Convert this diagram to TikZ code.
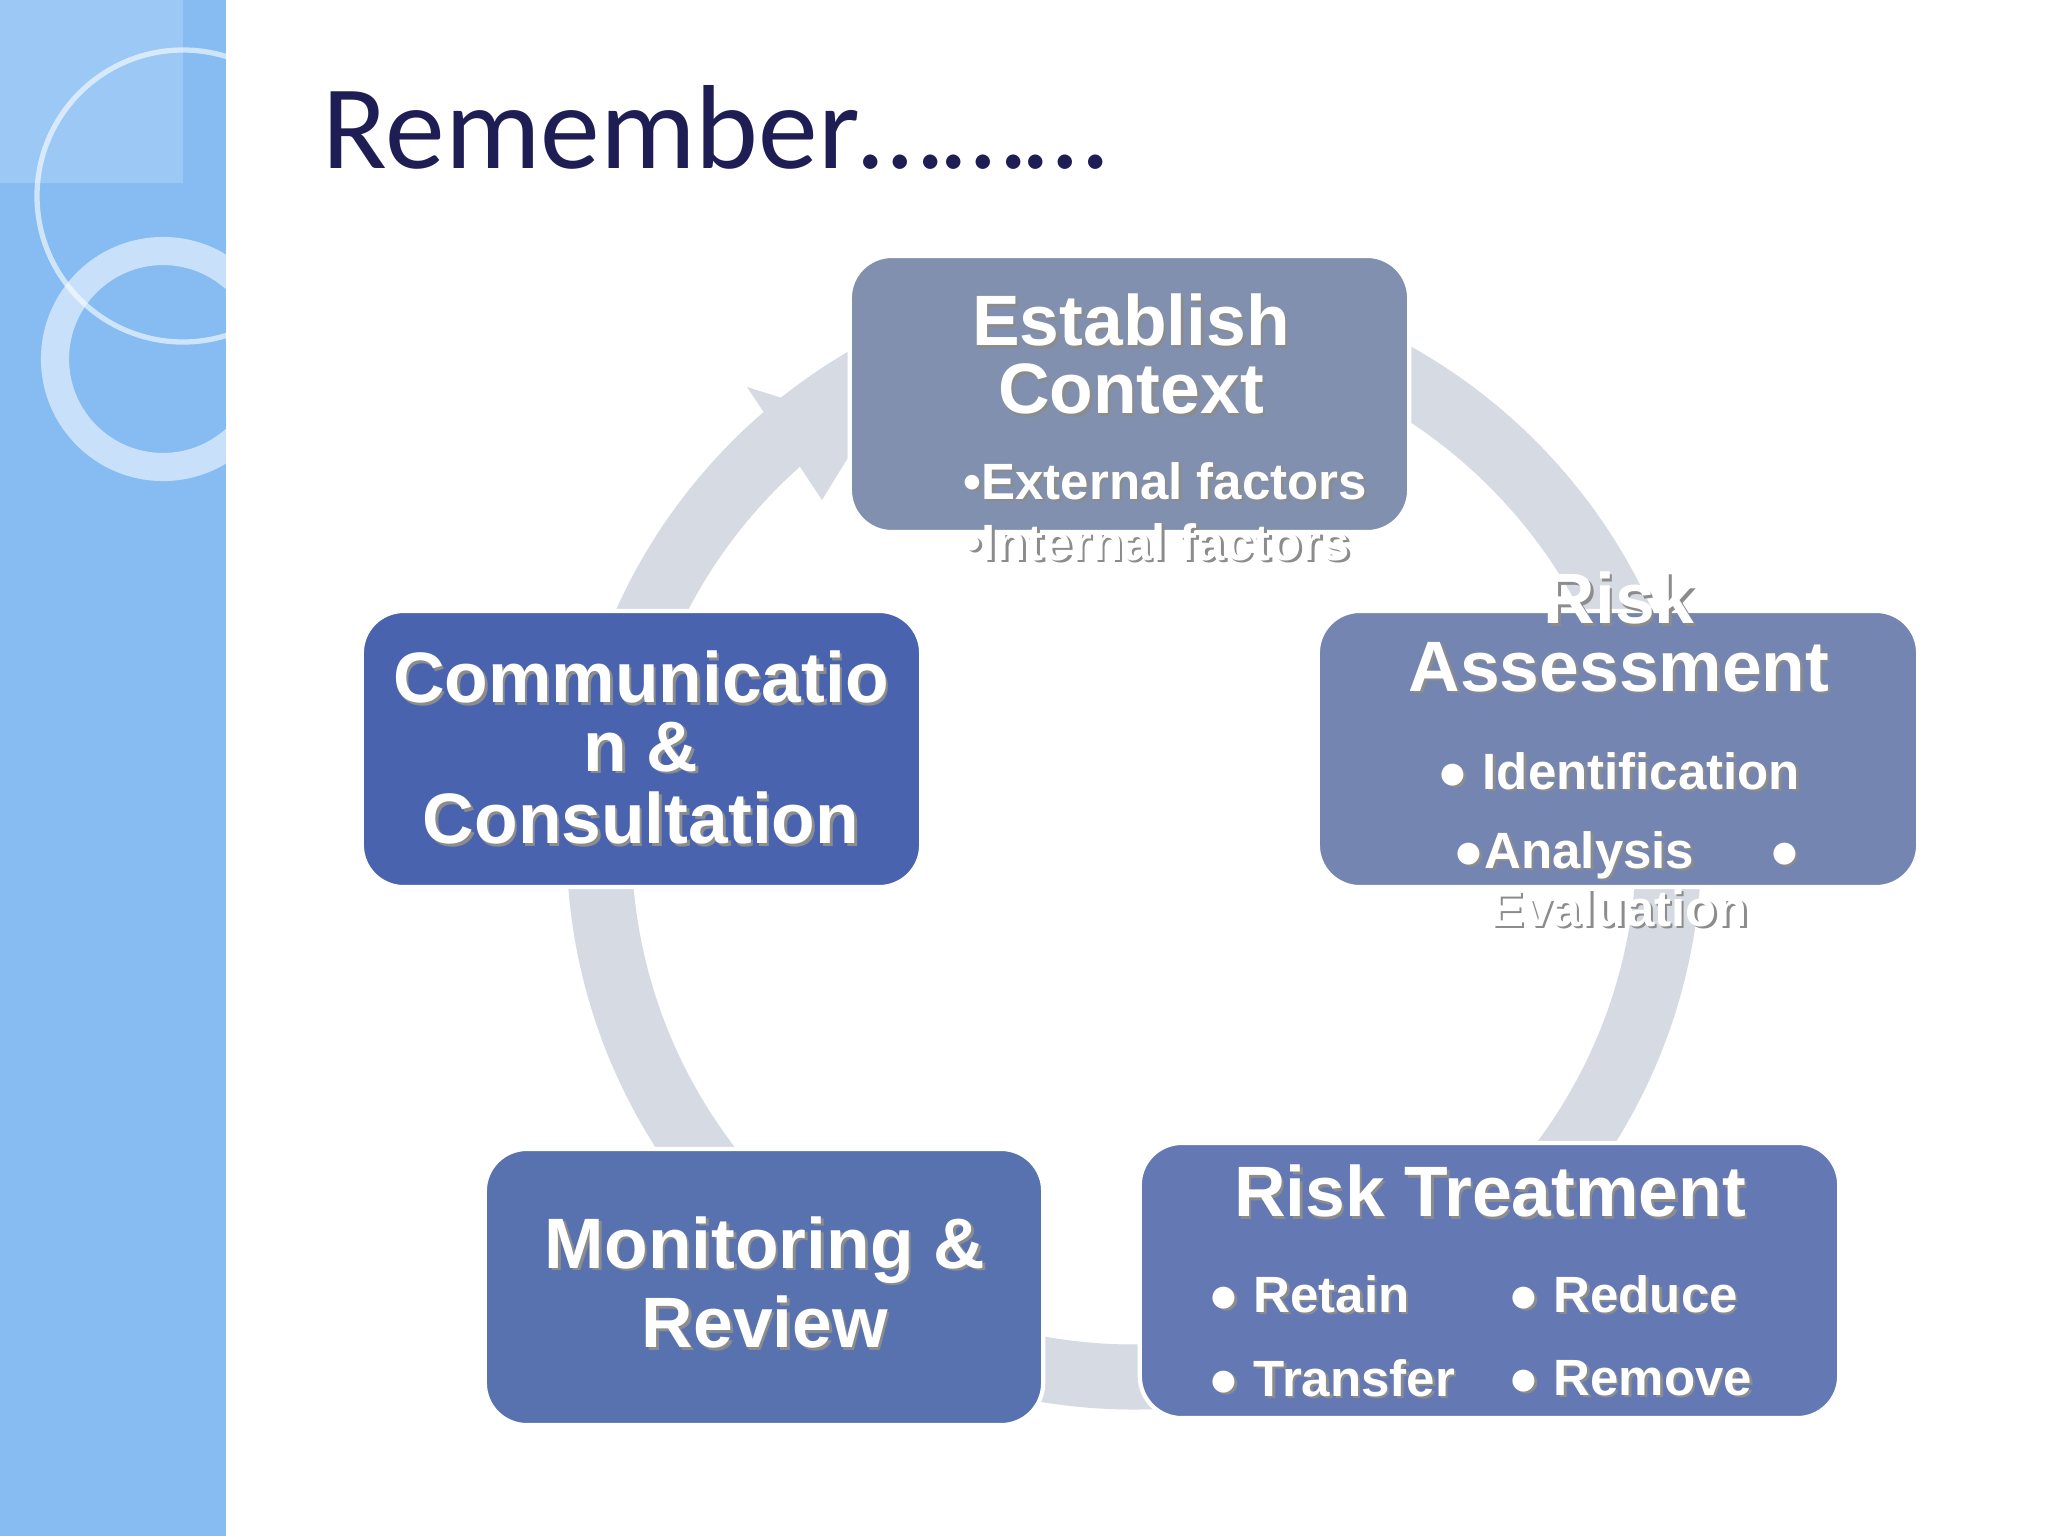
\documentclass[tikz,border=0pt]{standalone}
\usepackage{fontspec}
\usetikzlibrary{calc}
\setmainfont{Liberation Sans}
\newfontfamily\titlefont{Carlito}
\begin{document}
\begin{tikzpicture}[x=0.01cm,y=-0.01cm]
\definecolor{strip}{HTML}{86BCF2}
\definecolor{ring}{HTML}{D6DAE3}
\definecolor{navy}{HTML}{1E1E55}
\tikzset{
  box/.style={rounded corners=0.42cm, inner sep=0pt, draw=white, line width=1.2pt},
  big/.style={font=\fontsize{20.3}{24}\selectfont\bfseries, text=white, align=center, inner sep=0pt},
  small/.style={font=\fontsize{14.5}{17}\selectfont\bfseries, text=white, inner sep=0pt},
}
\newcommand{\shtxt}[4]{%
  \node[#1, text=black!45] at ($(#2)+(2.5,2.5)$) {#4};
  \node[#1] (#3) at (#2) {#4};}
\useasboundingbox (0,0) rectangle (2048,1536);
\fill[white] (0,0) rectangle (2048,1536);
% strip
\fill[strip] (0,0) rectangle (226,1536);
\begin{scope}
\clip (0,0) rectangle (226,1536);
\fill[white,opacity=0.18] (0,0) rectangle (183,183);
\draw[white,opacity=0.6,line width=1.5pt] (183,196) circle (146);
\draw[white,opacity=0.55,line width=8pt] (163,359) circle (108);
\end{scope}
\node[anchor=base west, font=\titlefont\fontsize{34}{38}\selectfont, text=navy, inner sep=0pt] (title) at (322,168) {Remember………};
% ring
\draw[ring, line width=0.65cm] (1134,842) circle (535);
\fill[ring] (747,387) -- (868,425) -- (822,500) -- cycle;
% boxes
\node[box, fill={rgb,255:red,128;green,144;blue,174}, minimum width=5.59cm, minimum height=2.76cm] (ec) at (1129.5,394) {};
\node[box, fill={rgb,255:red,116;green,133;blue,178}, minimum width=6.0cm, minimum height=2.76cm] (ra) at (1618,749) {};
\node[box, fill={rgb,255:red,100;green,120;blue,180}, minimum width=6.99cm, minimum height=2.75cm] (rt) at (1489.5,1280.5) {};
\node[box, fill={rgb,255:red,88;green,114;blue,176}, minimum width=5.58cm, minimum height=2.76cm] (mr) at (764,1287) {};
\node[box, fill={rgb,255:red,74;green,99;blue,174}, minimum width=5.59cm, minimum height=2.76cm] (cc) at (641.5,749) {};
% Establish
\shtxt{big}{1131,320}{t1}{Establish}
\shtxt{big}{1131,389}{t2}{Context}
\shtxt{small,anchor=west}{963,481}{t3}{•External factors}
\shtxt{small,anchor=west}{963,542}{t4}{•Internal factors}
% Risk assessment
\shtxt{big}{1619,598}{a1}{Risk}
\shtxt{big}{1619,667}{a2}{Assessment}
\shtxt{small}{1619,771}{a3}{● Identification}
\shtxt{small,anchor=west}{1453,855}{a4}{●Analysis\hspace{0.75cm}●}
\shtxt{small}{1619,908}{a5}{Evaluation}
% Communication
\shtxt{big}{641,677}{c1}{Communicatio}
\shtxt{big}{641,747}{c2}{n \&}
\shtxt{big}{641,818}{c3}{Consultation}
% Monitoring
\shtxt{big}{765,1250}{m1}{Monitoring \&}
\shtxt{big}{765,1322}{m2}{Review}
% Treatment
\shtxt{big}{1490,1191}{r1}{Risk Treatment}
\shtxt{small,anchor=west}{1208,1294}{r2}{● Retain}
\shtxt{small,anchor=west}{1508,1294}{r3}{● Reduce}
\shtxt{small,anchor=west}{1208,1378}{r4}{● Transfer}
\shtxt{small,anchor=west}{1508,1378}{r5}{● Remove}
\end{tikzpicture}
\end{document}
